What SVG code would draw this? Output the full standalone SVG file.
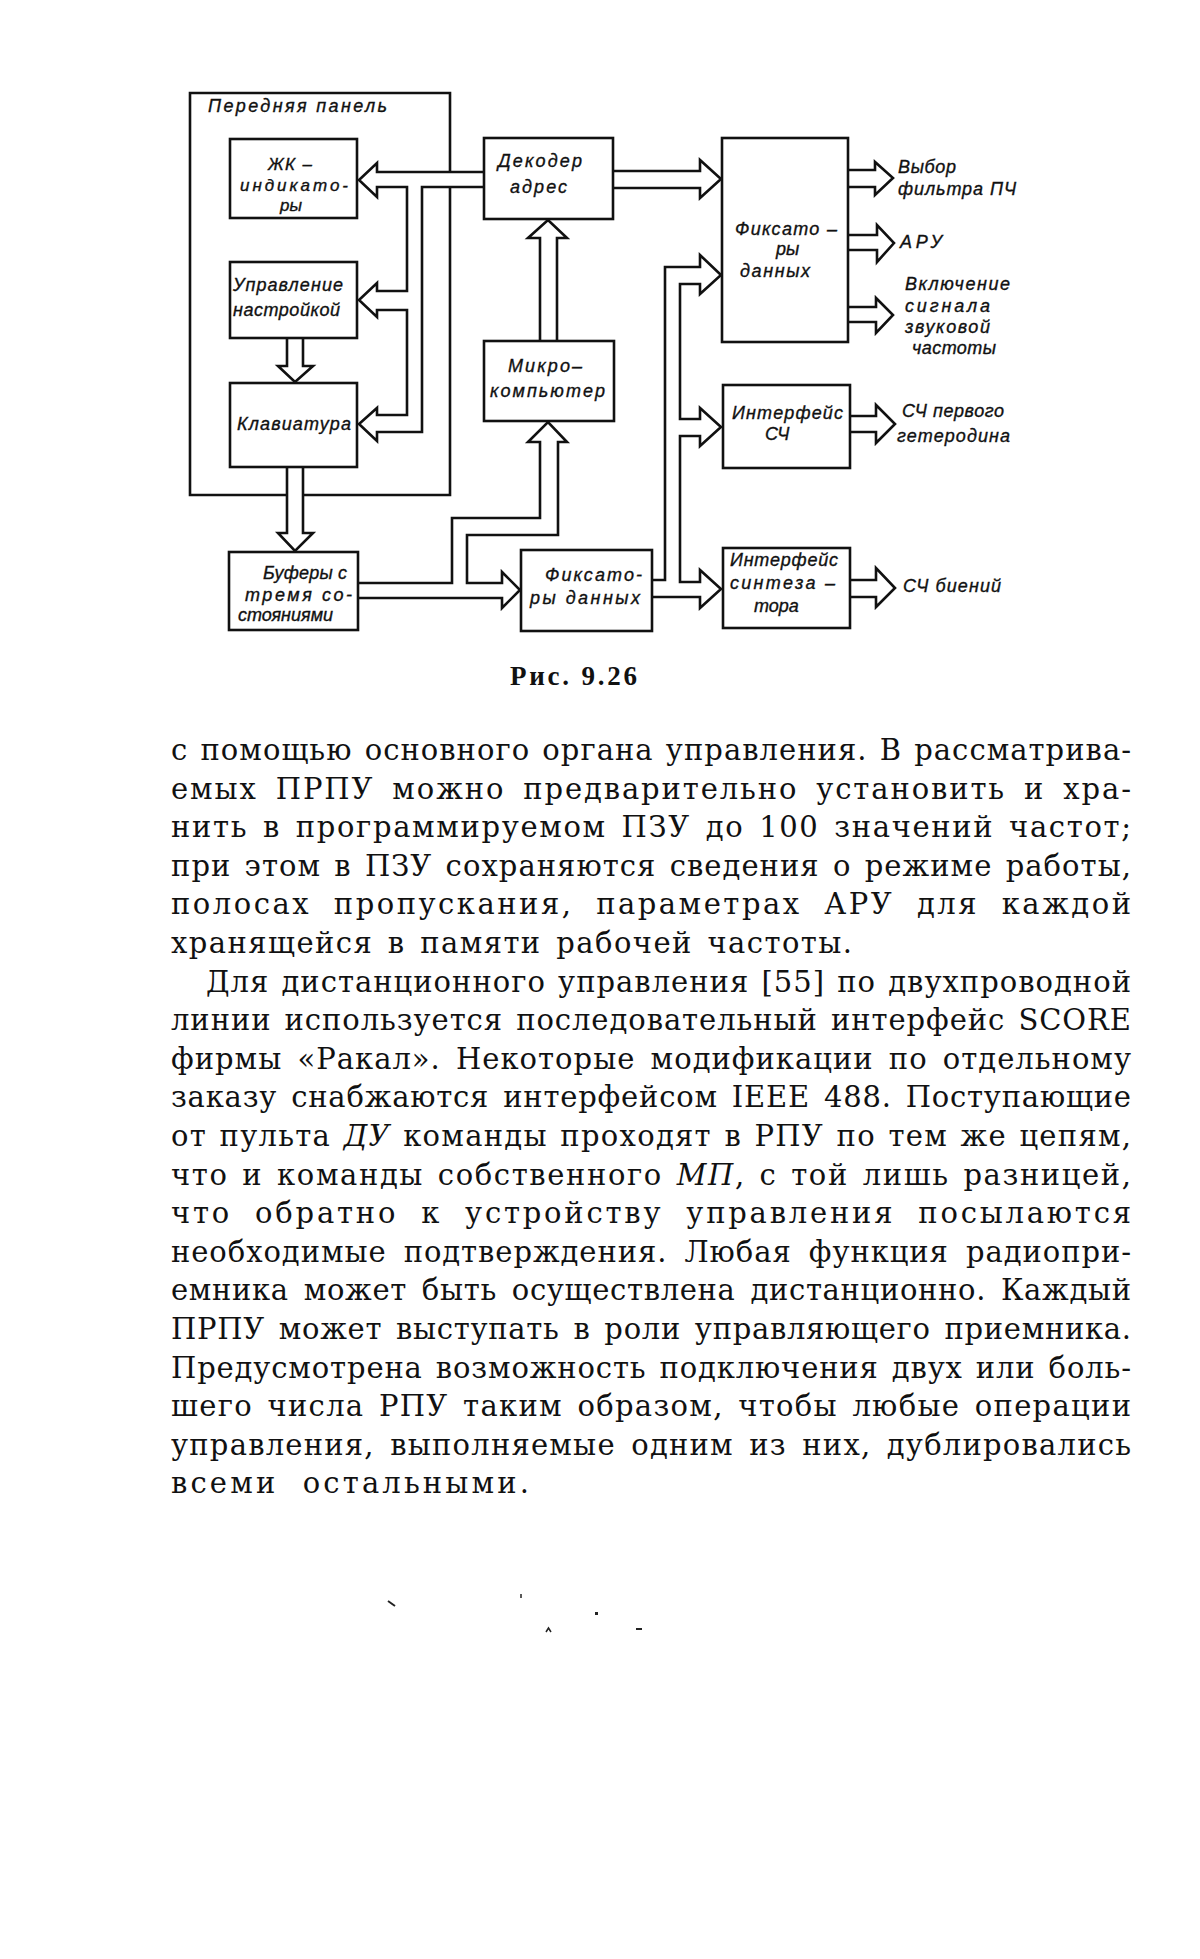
<svg xmlns="http://www.w3.org/2000/svg" width="1200" height="1959" viewBox="0 0 1200 1959">
<style>
.bx{fill:none;stroke:#111;stroke-width:2.6}
.cn{fill:none;stroke:#111;stroke-width:2.6;stroke-linejoin:miter}
.lb{font-family:"Liberation Sans","DejaVu Sans",sans-serif;font-style:italic;font-size:18px;fill:#111;stroke:#111;stroke-width:0.35}
.sm{font-size:17px}
.bt{font-family:"DejaVu Serif","Liberation Serif",serif;font-size:29px;fill:#111}
.cap{font-family:"Liberation Serif","DejaVu Serif",serif;font-size:27px;font-weight:bold;fill:#111}
.it{font-style:italic}
</style>
<rect x="0" y="0" width="1200" height="1959" fill="#fff"/>

<g id="front-panel">
<path class="bx" d="M287,495 H190 V93 H450 V172 M450,187 V495 H303"/>
<text class="lb" x="208" y="112" textLength="179" lengthAdjust="spacing">Передняя   панель</text>
</g>

<g id="lcd">
<rect class="bx" x="230" y="139" width="127" height="79"/>
<text class="lb sm" x="268" y="170" textLength="44" lengthAdjust="spacing">ЖК –</text>
<text class="lb sm" x="240" y="191" textLength="108" lengthAdjust="spacing">индикато-</text>
<text class="lb sm" x="280" y="211">ры</text>
</g>

<g id="tuning">
<rect class="bx" x="230" y="262" width="127" height="76"/>
<text class="lb" x="233" y="291" textLength="110" lengthAdjust="spacing">Управление</text>
<text class="lb" x="233" y="316" textLength="107" lengthAdjust="spacing">настройкой</text>
</g>

<g id="keyboard">
<rect class="bx" x="230" y="383" width="127" height="84"/>
<text class="lb" x="237" y="430" textLength="114" lengthAdjust="spacing">Клавиатура</text>
</g>

<g id="buffers">
<rect class="bx" x="229" y="552" width="129" height="78"/>
<text class="lb" x="263" y="579" textLength="84" lengthAdjust="spacing">Буферы с</text>
<text class="lb" x="245" y="601" textLength="107" lengthAdjust="spacing">тремя со-</text>
<text class="lb" x="238" y="621" textLength="95" lengthAdjust="spacing">стояниями</text>
</g>

<g id="decoder">
<rect class="bx" x="484" y="138" width="129" height="81"/>
<text class="lb" x="498" y="167" textLength="84" lengthAdjust="spacing">Декодер</text>
<text class="lb" x="510" y="193" textLength="57" lengthAdjust="spacing">адрес</text>
</g>

<g id="microcomputer">
<rect class="bx" x="484" y="341" width="130" height="80"/>
<text class="lb" x="508" y="372" textLength="74" lengthAdjust="spacing">Микро–</text>
<text class="lb" x="490" y="397" textLength="115" lengthAdjust="spacing">компьютер</text>
</g>

<g id="latches-main">
<rect class="bx" x="722" y="138" width="126" height="204"/>
<text class="lb" x="735" y="235" textLength="102" lengthAdjust="spacing">Фиксато –</text>
<text class="lb" x="776" y="255">ры</text>
<text class="lb" x="740" y="277" textLength="70" lengthAdjust="spacing">данных</text>
</g>

<g id="latches-low">
<rect class="bx" x="521" y="550" width="131" height="81"/>
<text class="lb" x="545" y="581" textLength="97" lengthAdjust="spacing">Фиксато-</text>
<text class="lb" x="530" y="604" textLength="110" lengthAdjust="spacing">ры  данных</text>
</g>

<g id="if-sch">
<rect class="bx" x="723" y="385" width="127" height="83"/>
<text class="lb" x="732" y="419" textLength="111" lengthAdjust="spacing">Интерфейс</text>
<text class="lb" x="765" y="440">СЧ</text>
</g>

<g id="if-synth">
<rect class="bx" x="723" y="548" width="127" height="80"/>
<text class="lb" x="730" y="566" textLength="108" lengthAdjust="spacing">Интерфейс</text>
<text class="lb" x="730" y="589" textLength="105" lengthAdjust="spacing">синтеза –</text>
<text class="lb" x="754" y="612">тора</text>
</g>

<g id="out-labels">
<text class="lb" x="898" y="173" textLength="58" lengthAdjust="spacing">Выбор</text>
<text class="lb" x="898" y="195" textLength="118" lengthAdjust="spacing">фильтра ПЧ</text>
<text class="lb" x="900" y="248" textLength="42" lengthAdjust="spacing">АРУ</text>
<text class="lb" x="905" y="290" textLength="105" lengthAdjust="spacing">Включение</text>
<text class="lb" x="905" y="312" textLength="85" lengthAdjust="spacing">сигнала</text>
<text class="lb" x="905" y="333" textLength="85" lengthAdjust="spacing">звуковой</text>
<text class="lb" x="912" y="354" textLength="84" lengthAdjust="spacing">частоты</text>
<text class="lb" x="902" y="417" textLength="102" lengthAdjust="spacing">СЧ первого</text>
<text class="lb" x="897" y="442" textLength="113" lengthAdjust="spacing">гетеродина</text>
<text class="lb" x="903" y="592" textLength="98" lengthAdjust="spacing">СЧ биений</text>
</g>

<g id="connectors">
<path class="cn" d="M613,171 H700 V160 L721,179 L700,198 V188 H613"/>
<path class="cn" d="M484,172 H377 V163 L359,180 L377,197 V187 H407 V291 H377 V283 L359,300 L377,317 V310 H407 V415 H377 V408 L359,424 L377,441 V432 H422 V187 H484"/>
<path class="cn" d="M287,338 V366 H278 L295,382 L313,366 H303 V338"/>
<path class="cn" d="M287,467 V533 H278 L295,551 L313,533 H303 V467"/>
<path class="cn" d="M540,341 V238 H528 L548,220 L567,238 H557 V341"/>
<path class="cn" d="M358,583 H452 V518 H540 V442 H528 L548,422 L567,442 H558 V535 H467 V583 H502 V572 L520,590 L502,608 V598 H358"/>
<path class="cn" d="M652,580 H665 V267 H700 V255 L721,275 L700,294 V284 H680 V419 H700 V408 L721,427 L700,446 V436 H680 V582 H700 V570 L721,589 L700,608 V597 H652"/>
<path class="cn" d="M848,170 H875 V162 L893,178 L875,195 V187 H848"/>
<path class="cn" d="M848,235 H877 V225 L894,243 L877,262 V250 H848"/>
<path class="cn" d="M848,307 H876 V298 L893,315 L876,333 V322 H848"/>
<path class="cn" d="M850,416 H876 V405 L895,424 L876,443 V432 H850"/>
<path class="cn" d="M850,580 H876 V568 L895,588 L876,607 V597 H850"/>
</g>

<g id="caption">
<text class="cap" x="510" y="685" textLength="127" lengthAdjust="spacing">Рис. 9.26</text>
</g>

<g id="body-text">
<text class="bt" x="171" y="760" textLength="960" lengthAdjust="spacing" word-spacing="2">с помощью основного органа управления. В рассматрива-</text>
<text class="bt" x="171" y="798.6" textLength="960" lengthAdjust="spacing" word-spacing="7">емых ПРПУ можно предварительно установить и хра-</text>
<text class="bt" x="171" y="837.2" textLength="960" lengthAdjust="spacing" word-spacing="4">нить в программируемом ПЗУ до 100 значений частот;</text>
<text class="bt" x="171" y="875.8" textLength="960" lengthAdjust="spacing" word-spacing="3">при этом в ПЗУ сохраняются сведения о режиме работы,</text>
<text class="bt" x="171" y="914.4" textLength="960" lengthAdjust="spacing" word-spacing="11">полосах пропускания, параметрах АРУ для каждой</text>
<text class="bt" x="171" y="953" textLength="681" lengthAdjust="spacing" word-spacing="4">хранящейся в памяти рабочей частоты.</text>
<text class="bt" x="206" y="991.6" textLength="925" lengthAdjust="spacing" word-spacing="2">Для дистанционного управления [55] по двухпроводной</text>
<text class="bt" x="171" y="1030.2" textLength="960" lengthAdjust="spacing" word-spacing="3">линии используется последовательный интерфейс SCORE</text>
<text class="bt" x="171" y="1068.8" textLength="960" lengthAdjust="spacing" word-spacing="5">фирмы «Ракал». Некоторые модификации по отдельному</text>
<text class="bt" x="171" y="1107.4" textLength="960" lengthAdjust="spacing" word-spacing="4">заказу снабжаются интерфейсом IEEE 488. Поступающие</text>
<text class="bt" x="171" y="1146" textLength="960" lengthAdjust="spacing" word-spacing="2">от пульта <tspan class="it">ДУ</tspan> команды проходят в РПУ по тем же цепям,</text>
<text class="bt" x="171" y="1184.6" textLength="960" lengthAdjust="spacing" word-spacing="3">что и команды собственного <tspan class="it">МП</tspan>, с той лишь разницей,</text>
<text class="bt" x="171" y="1223.2" textLength="960" lengthAdjust="spacing" word-spacing="11">что обратно к устройству управления посылаются</text>
<text class="bt" x="171" y="1261.8" textLength="960" lengthAdjust="spacing" word-spacing="7">необходимые подтверждения. Любая функция радиопри-</text>
<text class="bt" x="171" y="1300.4" textLength="960" lengthAdjust="spacing" word-spacing="5">емника может быть осуществлена дистанционно. Каждый</text>
<text class="bt" x="171" y="1339" textLength="960" lengthAdjust="spacing" word-spacing="4">ПРПУ может выступать в роли управляющего приемника.</text>
<text class="bt" x="171" y="1377.6" textLength="960" lengthAdjust="spacing" word-spacing="3">Предусмотрена возможность подключения двух или боль-</text>
<text class="bt" x="171" y="1416.2" textLength="960" lengthAdjust="spacing" word-spacing="4">шего числа РПУ таким образом, чтобы любые операции</text>
<text class="bt" x="171" y="1454.8" textLength="960" lengthAdjust="spacing" word-spacing="5">управления, выполняемые одним из них, дублировались</text>
<text class="bt" x="171" y="1493.4" textLength="358" lengthAdjust="spacing" word-spacing="12">всеми остальными.</text>
</g>

<g id="specks" fill="#222" stroke="#222">
<line x1="388" y1="1601" x2="395" y2="1606" stroke-width="2"/>
<line x1="521" y1="1594" x2="521" y2="1598" stroke-width="1.5"/>
<polyline points="546,1632 548.5,1628 551,1632" fill="none" stroke-width="1.5"/>
<rect x="595" y="1612" width="3" height="3" stroke="none"/>
<line x1="636" y1="1629" x2="642" y2="1629" stroke-width="2"/>
</g>
</svg>
